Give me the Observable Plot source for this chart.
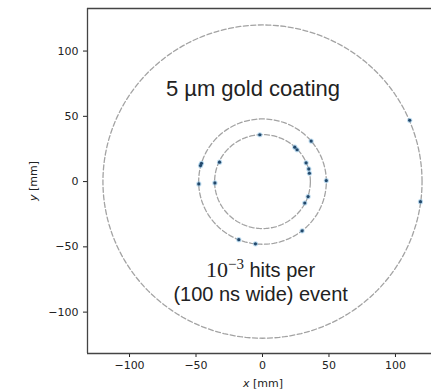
<!DOCTYPE html>
<html>
<head>
<meta charset="utf-8">
<script src="https://cdn.jsdelivr.net/npm/d3@7"></script>
<script src="https://cdn.jsdelivr.net/npm/@observablehq/plot@0.6"></script>
<style>
  html, body { margin: 0; padding: 0; background: #fff; overflow: hidden; }
  svg { display: block; }
</style>
</head>
<body>
<div id="chart"></div>
<script>
// Detector layer radii (mm)
const layerRadii = [120, 48, 36];
// Hit positions (mm)
const hitX = [-2, 24.3, 26, 36.6, -45.9, -46.6, -32.3, 32.8, 34.8, 35.3, 48, -47.9, -35.8, 34.3, 31.8, 29.8, -17.8, -5.3, 110.7, 118.8];
const hitY = [35.9, 26.4, 24.4, 31, 14, 12.3, 14.9, 14.4, 9.7, 6.4, 0.8, -1.8, -1, -11.5, -16.4, -37.7, -44.5, -47.7, 47, -15.4];
// Tick values
const xTicks = [-100, -50, 0, 50, 100];
const yTicks = [-100, -50, 0, 50, 100];
// Axis domains
const xDomain = [-131.6, 127.1];
const yDomain = [-131.7, 132.6];

const hits = hitX.map((x, i) => ({x, y: hitY[i]}));
const circlePts = layerRadii.flatMap((r, k) =>
  d3.range(0, 361, 2).map(a => ({layer: k, x: r * Math.cos(a * Math.PI / 180), y: r * Math.sin(a * Math.PI / 180)})));

const plot = Plot.plot({
  width: 431,
  height: 390,
  marginLeft: 87,
  marginRight: 0,
  marginTop: 8,
  marginBottom: 37,
  style: {fontFamily: "DejaVu Sans", fontSize: "11px", color: "#222", background: "#fff"},
  x: {domain: xDomain, ticks: xTicks, tickSize: 4, tickPadding: 4, label: null},
  y: {domain: yDomain, ticks: yTicks, tickSize: 4, tickPadding: 5, label: null},
  marks: [
    Plot.line(circlePts, {x: "x", y: "y", z: "layer", stroke: "#a3a3a3", strokeWidth: 1.3, strokeDasharray: "5,2.5"}),
    Plot.dot(hits, {x: "x", y: "y", r: 2.6, fill: "#8fc1e3", fillOpacity: 0.6}),
    Plot.dot(hits, {x: "x", y: "y", r: 1.6, fill: "#22486b"}),
    Plot.ruleX([xDomain[0]], {stroke: "#444", strokeWidth: 1.3}),
    Plot.ruleY([yDomain[1]], {stroke: "#444", strokeWidth: 1.3}),
    Plot.ruleY([yDomain[0]], {stroke: "#444", strokeWidth: 1.3})
  ]
});

const svg = d3.select(plot);
const sx = plot.scale("x"), sy = plot.scale("y");
const X = v => sx.apply(v), Y = v => sy.apply(v);

// Annotation 1
svg.append("text")
  .attr("x", X(-6.8)).attr("y", Y(64.9))
  .attr("text-anchor", "middle")
  .attr("font-family", "Liberation Sans, Arial, sans-serif")
  .attr("font-size", 22).attr("fill", "#222")
  .text("5 µm gold coating");

// Annotation 2, line 1
const t2 = svg.append("text")
  .attr("x", X(-1.1)).attr("y", Y(-73.1))
  .attr("text-anchor", "middle")
  .attr("fill", "#222");
t2.append("tspan").attr("font-family", "Liberation Serif, Times New Roman, serif").attr("font-size", 22).text("10");
t2.append("tspan").attr("font-family", "Liberation Serif, Times New Roman, serif").attr("font-size", 15).attr("dy", -8).text("−3");
t2.append("tspan").attr("font-family", "Liberation Sans, Arial, sans-serif").attr("font-size", 20).attr("dy", 8).text(" hits per");

// Annotation 2, line 2
svg.append("text")
  .attr("x", X(-1)).attr("y", Y(-92))
  .attr("text-anchor", "middle")
  .attr("font-family", "Liberation Sans, Arial, sans-serif")
  .attr("font-size", 20).attr("fill", "#222")
  .text("(100 ns wide) event");

// Axis labels
const xl = svg.append("text")
  .attr("x", X(0.7)).attr("y", 387)
  .attr("text-anchor", "middle")
  .attr("font-family", "DejaVu Sans").attr("font-size", 11).attr("fill", "#222");
xl.append("tspan").attr("font-style", "italic").text("x");
xl.append("tspan").text(" [mm]");

const yl = svg.append("text")
  .attr("transform", `translate(37,${Y(0)}) rotate(-90)`)
  .attr("text-anchor", "middle")
  .attr("font-family", "DejaVu Sans").attr("font-size", 11).attr("fill", "#222");
yl.append("tspan").attr("font-style", "italic").text("y");
yl.append("tspan").text(" [mm]");

document.getElementById("chart").appendChild(plot);
</script>
</body>
</html>
